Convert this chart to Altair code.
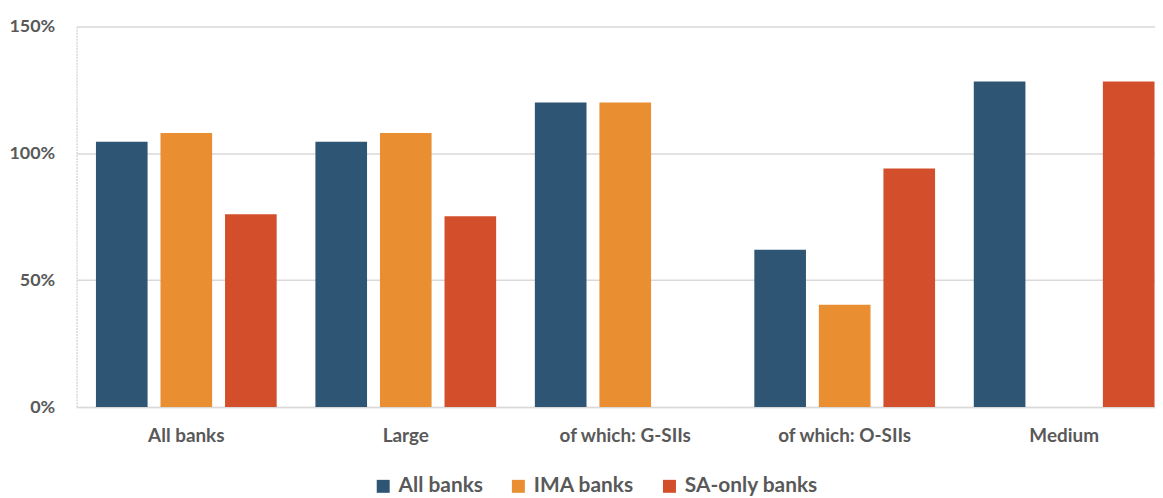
import altair as alt
import pandas as pd

categories = ["All banks", "Large", "of which: G-SIIs", "of which: O-SIIs", "Medium"]
series = ["All banks", "IMA banks", "SA-only banks"]
all_banks = [1.045, 1.045, 1.20, 0.62, 1.283]
ima_banks = [1.08, 1.08, 1.20, 0.403, None]
sa_only_banks = [0.76, 0.752, None, 0.94, 1.283]
colors = ["#2E5573", "#E98F32", "#D34E2A"]

rows = []
for i, c in enumerate(categories):
    for s, vals in zip(series, [all_banks, ima_banks, sa_only_banks]):
        if vals[i] is not None:
            rows.append({"category": c, "series": s, "value": vals[i]})
df = pd.DataFrame(rows)

font = "Lato"
grey = "#595959"

chart = alt.Chart(df).mark_bar().encode(
    x=alt.X("category:N", sort=categories, title=None,
            scale=alt.Scale(paddingInner=0, paddingOuter=0, range=[0, 1104]),
            axis=alt.Axis(labelAngle=0, ticks=False, tickSize=0, labelPadding=20,
                          labelFont=font, labelFontSize=19, labelFontWeight="bold",
                          labelColor=grey, domainColor="#D9D9D9", domainWidth=1.5,
                          domainDash=[2, 1])),
    xOffset=alt.XOffset("series:N", sort=series,
                        scale=alt.Scale(paddingInner=0.2, paddingOuter=0.3)),
    y=alt.Y("value:Q", title=None,
            scale=alt.Scale(domain=[0, 1.5], nice=False),
            axis=alt.Axis(values=[0, 0.5, 1.0, 1.5], format=".0%", ticks=False, tickSize=0,
                          labelPadding=22, labelFont=font, labelFontSize=18,
                          labelFontWeight="bold", labelColor=grey,
                          gridColor="#D9D9D9", gridWidth=1.5,
                          domainColor="#D9D9D9", domainWidth=1.5, domainDash=[2, 1])),
    color=alt.Color("series:N", sort=series,
                    scale=alt.Scale(domain=series, range=colors),
                    legend=alt.Legend(title=None, orient="none", direction="horizontal",
                                      legendX=298, legendY=452,
                                      symbolType="square", symbolSize=170,
                                      symbolStrokeWidth=0, labelFont=font,
                                      labelFontSize=21, labelFontWeight="bold",
                                      labelColor=grey, columnPadding=25, labelOffset=5)),
).properties(
    width=1085, height=383,
    autosize=alt.AutoSizeParams(type="none"),
    padding={"left": 69, "top": 17, "right": 0, "bottom": 90},
).configure_view(stroke=None)

chart.save("out.html", embed_options={"renderer": "svg", "actions": False})
